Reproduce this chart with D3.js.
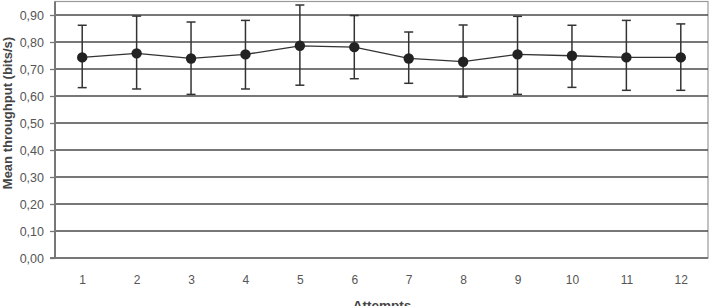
<!DOCTYPE html>
<html>
<head>
<meta charset="utf-8">
<script src="https://cdn.jsdelivr.net/npm/d3@7"></script>
<style>
  body { margin: 0; background: #fff; }
  svg { display: block; font-family: "Liberation Sans", Arial, sans-serif; }
</style>
</head>
<body>
<div id="chart"></div>
<script>
// data
var attempts = ["1", "2", "3", "4", "5", "6", "7", "8", "9", "10", "11", "12"];
var means    = [0.743, 0.758, 0.739, 0.754, 0.786, 0.781, 0.739, 0.727, 0.754, 0.749, 0.743, 0.743];
var errUp    = [0.119, 0.138, 0.135, 0.126, 0.151, 0.117, 0.098, 0.136, 0.141, 0.113, 0.137, 0.124];
var errDown  = [0.112, 0.132, 0.133, 0.128, 0.146, 0.117, 0.092, 0.131, 0.148, 0.117, 0.122, 0.122];
var yTicks   = [0, 0.1, 0.2, 0.3, 0.4, 0.5, 0.6, 0.7, 0.8, 0.9];

var W = 711, H = 306;
// plot area edges (careful: "top" is taken by window.top)
var plotLeft = 55, plotRight = 708, plotTop = 1.5, plotBottom = 258;

var svg = d3.select("#chart").append("svg")
    .attr("width", W)
    .attr("height", H);

var x = d3.scalePoint()
    .domain(attempts)
    .range([plotLeft, plotRight])
    .padding(0.5);

var y = d3.scaleLinear()
    .domain([0, 0.95])
    .range([plotBottom, plotTop]);

var fmt = function(d) { return d3.format(".2f")(d).replace(".", ","); };

// plot frame (right/top)
svg.append("rect")
    .attr("x", plotLeft).attr("y", plotTop)
    .attr("width", plotRight - plotLeft).attr("height", plotBottom - plotTop)
    .style("fill", "#fff")
    .style("stroke", "#999")
    .style("stroke-width", 1.2);

// gridlines
svg.append("g")
    .selectAll("line")
    .data(yTicks.filter(function(d) { return d > 0; }))
  .enter().append("line")
    .attr("x1", plotLeft).attr("x2", plotRight)
    .attr("y1", function(d) { return y(d); })
    .attr("y2", function(d) { return y(d); })
    .style("stroke", "#4a4a4a")
    .style("stroke-width", 1.3);

// y axis
var yAxis = svg.append("g")
    .attr("transform", "translate(" + plotLeft + ",0)")
    .call(d3.axisLeft(y).tickValues(yTicks).tickFormat(fmt).tickSize(5).tickPadding(6));
yAxis.select(".domain").remove();
yAxis.append("line")
    .attr("x1", 0).attr("x2", 0)
    .attr("y1", plotTop).attr("y2", plotBottom)
    .style("stroke", "#777").style("stroke-width", 2);
yAxis.selectAll(".tick line").style("stroke", "#777").style("stroke-width", 1.3);
yAxis.selectAll(".tick text")
    .style("font-size", "12.5px")
    .style("fill", "#555")
    .style("font-family", "Liberation Sans, Arial, sans-serif");

// x axis
var xAxis = svg.append("g")
    .attr("transform", "translate(0," + plotBottom + ")")
    .call(d3.axisBottom(x).tickSize(0).tickPadding(17));
xAxis.select(".domain").remove();
xAxis.append("line")
    .attr("x1", plotLeft - 5).attr("x2", plotRight)
    .style("stroke", "#777").style("stroke-width", 2);
xAxis.selectAll(".tick text")
    .style("font-size", "12px")
    .style("fill", "#555")
    .style("font-family", "Liberation Sans, Arial, sans-serif");

// error bars
var bars = svg.append("g").selectAll("g")
    .data(attempts)
  .enter().append("g")
    .style("stroke", "#333")
    .style("stroke-width", 1.5);

bars.append("line")
    .attr("x1", function(d) { return x(d); })
    .attr("x2", function(d) { return x(d); })
    .attr("y1", function(d, i) { return y(means[i] + errUp[i]); })
    .attr("y2", function(d, i) { return y(means[i] - errDown[i]); });

bars.append("line")
    .attr("x1", function(d) { return x(d) - 4.5; })
    .attr("x2", function(d) { return x(d) + 4.5; })
    .attr("y1", function(d, i) { return y(means[i] + errUp[i]); })
    .attr("y2", function(d, i) { return y(means[i] + errUp[i]); });

bars.append("line")
    .attr("x1", function(d) { return x(d) - 4.5; })
    .attr("x2", function(d) { return x(d) + 4.5; })
    .attr("y1", function(d, i) { return y(means[i] - errDown[i]); })
    .attr("y2", function(d, i) { return y(means[i] - errDown[i]); });

// mean line
var line = d3.line()
    .x(function(d) { return x(d); })
    .y(function(d, i) { return y(means[i]); });

svg.append("path")
    .datum(attempts)
    .attr("d", line)
    .style("fill", "none")
    .style("stroke", "#333")
    .style("stroke-width", 1.3);

svg.append("g").selectAll("circle")
    .data(attempts)
  .enter().append("circle")
    .attr("cx", function(d) { return x(d); })
    .attr("cy", function(d, i) { return y(means[i]); })
    .attr("r", 5.2)
    .style("fill", "#222");

// axis titles
svg.append("text")
    .attr("transform", "translate(12,113) rotate(-90)")
    .attr("text-anchor", "middle")
    .style("font-size", "13px")
    .style("font-weight", "bold")
    .style("fill", "#444")
    .text("Mean throughput (bits/s)");

svg.append("text")
    .attr("x", 382).attr("y", 310)
    .attr("text-anchor", "middle")
    .style("font-size", "13.5px")
    .style("font-weight", "bold")
    .style("fill", "#444")
    .text("Attempts");
</script>
</body>
</html>
